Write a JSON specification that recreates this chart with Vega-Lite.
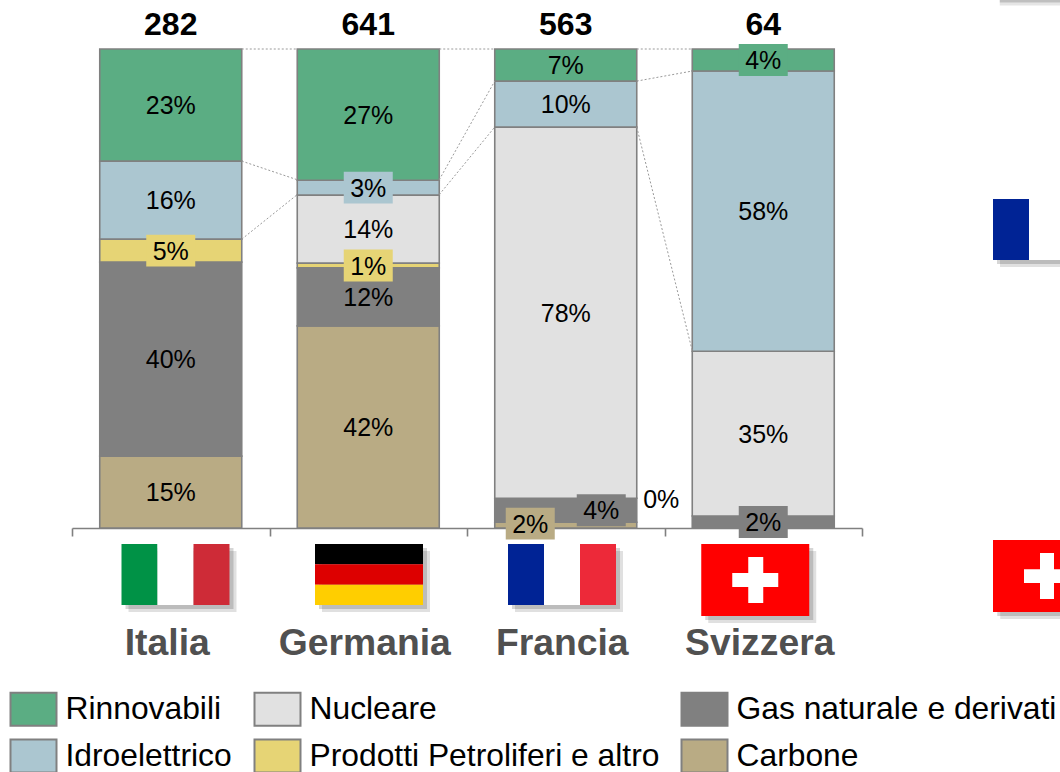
{"$schema":"https://vega.github.io/schema/vega-lite/v6.json","width":790,"height":479,"autosize":"none","padding":{"left":72,"top":49,"right":198,"bottom":244},"background":"white","config":{"view":{"stroke":null},"font":"Liberation Sans",
"axisX":{"title":null,"tickBand":"extent","domainColor":"#808080","domainWidth":1.6,"tickColor":"#808080","tickWidth":1.6,"tickSize":8,"labelAngle":0,"labelFont":"Liberation Sans","labelFontWeight":"bold","labelFontSize":37.3,"labelColor":"#505050","labelPadding":89,"labelBaseline":"top","labelOffset":-4},"axisY":{"disable":true}},
"datasets":{"quote":[
{"paese":"Italia","fonte":"Carbone","ordine":1,"valore":15.0,"etichetta":"15%","riquadro":false},
{"paese":"Italia","fonte":"Gas naturale e derivati","ordine":2,"valore":40.5,"etichetta":"40%","riquadro":false},
{"paese":"Italia","fonte":"Prodotti Petroliferi e altro","ordine":3,"valore":4.8,"etichetta":"5%","riquadro":true},
{"paese":"Italia","fonte":"Idroelettrico","ordine":5,"valore":16.3,"etichetta":"16%","riquadro":false},
{"paese":"Italia","fonte":"Rinnovabili","ordine":6,"valore":23.4,"etichetta":"23%","riquadro":false},
{"paese":"Germania","fonte":"Carbone","ordine":1,"valore":42.2,"etichetta":"42%","riquadro":false},
{"paese":"Germania","fonte":"Gas naturale e derivati","ordine":2,"valore":12.1,"etichetta":"12%","riquadro":false},
{"paese":"Germania","fonte":"Prodotti Petroliferi e altro","ordine":3,"valore":1.0,"etichetta":"1%","riquadro":true},
{"paese":"Germania","fonte":"Nucleare","ordine":4,"valore":14.2,"etichetta":"14%","riquadro":false},
{"paese":"Germania","fonte":"Idroelettrico","ordine":5,"valore":3.1,"etichetta":"3%","riquadro":true},
{"paese":"Germania","fonte":"Rinnovabili","ordine":6,"valore":27.4,"etichetta":"27%","riquadro":false},
{"paese":"Francia","fonte":"Carbone","ordine":1,"valore":1.2,"etichetta":"","riquadro":false},
{"paese":"Francia","fonte":"Gas naturale e derivati","ordine":2,"valore":5.0,"etichetta":"","riquadro":false},
{"paese":"Francia","fonte":"Nucleare","ordine":4,"valore":77.5,"etichetta":"78%","riquadro":false},
{"paese":"Francia","fonte":"Idroelettrico","ordine":5,"valore":9.6,"etichetta":"10%","riquadro":false},
{"paese":"Francia","fonte":"Rinnovabili","ordine":6,"valore":6.7,"etichetta":"7%","riquadro":false},
{"paese":"Svizzera","fonte":"Gas naturale e derivati","ordine":2,"valore":2.5,"etichetta":"2%","riquadro":true},
{"paese":"Svizzera","fonte":"Nucleare","ordine":4,"valore":34.4,"etichetta":"35%","riquadro":false},
{"paese":"Svizzera","fonte":"Idroelettrico","ordine":5,"valore":58.5,"etichetta":"58%","riquadro":false},
{"paese":"Svizzera","fonte":"Rinnovabili","ordine":6,"valore":4.6,"etichetta":"4%","riquadro":true}],
"sfalsate":[
{"paese":"Francia","fonte":"Carbone","valore":0.9,"etichetta":"2%","lato":"sinistra"},
{"paese":"Francia","fonte":"Gas naturale e derivati","valore":3.7,"etichetta":"4%","lato":"destra"}],
"collegamenti":[
{"id":"a","paese":"Italia","lato":"bordoDx","valore":100},{"id":"a","paese":"Germania","lato":"bordoSx","valore":100},
{"id":"b","paese":"Germania","lato":"bordoDx","valore":100},{"id":"b","paese":"Francia","lato":"bordoSx","valore":100},
{"id":"c","paese":"Francia","lato":"bordoDx","valore":100},{"id":"c","paese":"Svizzera","lato":"bordoSx","valore":100},
{"id":"d","paese":"Italia","lato":"bordoDx","valore":76.6},{"id":"d","paese":"Germania","lato":"bordoSx","valore":72.7},
{"id":"e","paese":"Italia","lato":"bordoDx","valore":60.3},{"id":"e","paese":"Germania","lato":"bordoSx","valore":69.6},
{"id":"f","paese":"Germania","lato":"bordoDx","valore":72.7},{"id":"f","paese":"Francia","lato":"bordoSx","valore":93.3},
{"id":"g","paese":"Germania","lato":"bordoDx","valore":69.6},{"id":"g","paese":"Francia","lato":"bordoSx","valore":83.7},
{"id":"h","paese":"Francia","lato":"bordoDx","valore":93.3},{"id":"h","paese":"Svizzera","lato":"bordoSx","valore":95.4},
{"id":"i","paese":"Francia","lato":"bordoDx","valore":83.7},{"id":"i","paese":"Svizzera","lato":"bordoSx","valore":37.0}],
"totali":[{"paese":"Italia","totale":282},{"paese":"Germania","totale":641},{"paese":"Francia","totale":563},{"paese":"Svizzera","totale":64}],
"it":[{"paese":"Italia"}],"de":[{"paese":"Germania"}],"fr":[{"paese":"Francia"}],"ch":[{"paese":"Svizzera"}]},
"layer":[
{"data":{"name":"quote"},"mark":{"type":"bar","stroke":"#808080","strokeWidth":1.6,"width":142},"encoding":{
"x":{"field":"paese","type":"nominal","title":null,"sort":null,"scale":{"type":"band","domain":["Italia","Germania","Francia","Svizzera"],"paddingInner":0,"paddingOuter":0}},
"y":{"field":"valore","type":"quantitative","stack":"zero","title":null,"scale":{"domain":[0,100],"nice":false}},
"order":{"field":"ordine"},
"color":{"field":"fonte","type":"nominal","scale":{"domain":["Rinnovabili","Idroelettrico","Nucleare","Prodotti Petroliferi e altro","Gas naturale e derivati","Carbone"],"range":["#5BAD83","#ABC6D0","#E1E1E1","#E6D475","#808080","#B9AB84"]},"legend":{"title":null,"orient":"none","legendX":-62.5,"legendY":636,"columns":3,"gridAlign":"each","columnPadding":18,"rowPadding":2,"padding":0,"symbolType":"M-1,-0.72H1V0.72H-1Z","symbolSize":2116,"symbolStrokeColor":"#808080","symbolStrokeWidth":2,"symbolOpacity":1,"labelFont":"Liberation Sans","labelFontSize":31.8,"labelColor":"#000000","labelOffset":8,"labelLimit":500}}}},
{"data":{"name":"collegamenti"},"mark":{"type":"line","stroke":"#9a9a9a","strokeWidth":1,"strokeDash":[2,2]},"encoding":{
"x":{"field":"paese","type":"nominal","title":null,"sort":null},
"xOffset":{"field":"lato","type":"nominal","scale":{"type":"point","domain":["bordoSx","sinistra","centro","destra","bordoDx"],"range":[27.75,169.75],"padding":0}},
"y":{"field":"valore","type":"quantitative","title":null,"stack":null},"detail":{"field":"id"}}},
{"data":{"name":"quote"},"mark":{"type":"point","filled":true,"shape":"M-1,-0.65H1V0.65H-1Z","size":2401,"strokeWidth":0,"opacity":1},"encoding":{
"x":{"field":"paese","type":"nominal","title":null,"sort":null},
"y":{"field":"valore","type":"quantitative","title":null,"stack":"zero","bandPosition":0.5},
"order":{"field":"ordine"},
"color":{"field":"fonte","type":"nominal"},
"opacity":{"condition":{"test":"datum.riquadro","value":1},"value":0}}},
{"data":{"name":"sfalsate"},"mark":{"type":"point","filled":true,"shape":"M-1,-0.65H1V0.65H-1Z","size":2401,"strokeWidth":0,"opacity":1},"encoding":{
"x":{"field":"paese","type":"nominal","title":null,"sort":null},
"xOffset":{"field":"lato","type":"nominal"},
"y":{"field":"valore","type":"quantitative","title":null,"stack":null},
"color":{"field":"fonte","type":"nominal"}}},
{"data":{"name":"quote"},"mark":{"type":"text","font":"Liberation Sans","fontSize":25,"color":"#000000","baseline":"middle","dy":1},"encoding":{
"x":{"field":"paese","type":"nominal","title":null,"sort":null},
"y":{"field":"valore","type":"quantitative","title":null,"stack":"zero","bandPosition":0.5},
"order":{"field":"ordine"},
"text":{"field":"etichetta"}}},
{"data":{"name":"sfalsate"},"mark":{"type":"text","font":"Liberation Sans","fontSize":25,"color":"#000000","baseline":"middle","dy":1},"encoding":{
"x":{"field":"paese","type":"nominal","title":null,"sort":null},
"xOffset":{"field":"lato","type":"nominal"},
"y":{"field":"valore","type":"quantitative","title":null,"stack":null},
"text":{"field":"etichetta"}}},
{"data":{"values":[{"paese":"Francia","valore":6.05,"etichetta":"0%"}]},"mark":{"type":"text","font":"Liberation Sans","fontSize":25,"color":"#000000","baseline":"middle","dy":1,"xOffset":95.5},"encoding":{
"x":{"field":"paese","type":"nominal","title":null,"sort":null},
"y":{"field":"valore","type":"quantitative","title":null,"stack":null},
"text":{"field":"etichetta"}}},
{"data":{"name":"totali"},"mark":{"type":"text","font":"Liberation Sans","fontWeight":"bold","fontSize":32,"color":"#000000","baseline":"middle","yOffset":-24},"encoding":{
"x":{"field":"paese","type":"nominal","title":null,"sort":null},
"y":{"datum":100,"title":null},
"text":{"field":"totale"}}},

{"data":{"name":"it"},"mark":{"type":"rect","color":"#000000","opacity":0.16,"width":108,"xOffset":8.75,"yOffset":4,"y2Offset":4},"encoding":{"x":{"field":"paese","type":"nominal","title":null,"sort":null},"y":{"datum":-3.34,"title":null},"y2":{"datum":-16.08}}},
{"data":{"name":"it"},"mark":{"type":"rect","color":"#000000","opacity":0.12,"width":108,"xOffset":11.75,"yOffset":7,"y2Offset":7},"encoding":{"x":{"field":"paese","type":"nominal","title":null,"sort":null},"y":{"datum":-3.34,"title":null},"y2":{"datum":-16.08}}},
{"data":{"name":"it"},"mark":{"type":"rect","color":"#009246","width":36,"xOffset":-31.25},"encoding":{"x":{"field":"paese","type":"nominal","title":null,"sort":null},"y":{"datum":-3.34,"title":null},"y2":{"datum":-16.08}}},
{"data":{"name":"it"},"mark":{"type":"rect","color":"#FFFFFF","width":36,"xOffset":4.75},"encoding":{"x":{"field":"paese","type":"nominal","title":null,"sort":null},"y":{"datum":-3.34,"title":null},"y2":{"datum":-16.08}}},
{"data":{"name":"it"},"mark":{"type":"rect","color":"#CE2B37","width":36,"xOffset":40.75},"encoding":{"x":{"field":"paese","type":"nominal","title":null,"sort":null},"y":{"datum":-3.34,"title":null},"y2":{"datum":-16.08}}},

{"data":{"name":"de"},"mark":{"type":"rect","color":"#000000","opacity":0.16,"width":108,"xOffset":4.75,"yOffset":4,"y2Offset":4},"encoding":{"x":{"field":"paese","type":"nominal","title":null,"sort":null},"y":{"datum":-3.34,"title":null},"y2":{"datum":-16.08}}},
{"data":{"name":"de"},"mark":{"type":"rect","color":"#000000","opacity":0.12,"width":108,"xOffset":7.75,"yOffset":7,"y2Offset":7},"encoding":{"x":{"field":"paese","type":"nominal","title":null,"sort":null},"y":{"datum":-3.34,"title":null},"y2":{"datum":-16.08}}},
{"data":{"name":"de"},"mark":{"type":"rect","color":"#000000","width":108,"xOffset":0.75},"encoding":{"x":{"field":"paese","type":"nominal","title":null,"sort":null},"y":{"datum":-3.34,"title":null},"y2":{"datum":-7.58}}},
{"data":{"name":"de"},"mark":{"type":"rect","color":"#DD0000","width":108,"xOffset":0.75},"encoding":{"x":{"field":"paese","type":"nominal","title":null,"sort":null},"y":{"datum":-7.58,"title":null},"y2":{"datum":-11.84}}},
{"data":{"name":"de"},"mark":{"type":"rect","color":"#FFCE00","width":108,"xOffset":0.75},"encoding":{"x":{"field":"paese","type":"nominal","title":null,"sort":null},"y":{"datum":-11.84,"title":null},"y2":{"datum":-16.08}}},

{"data":{"name":"fr"},"mark":{"type":"rect","color":"#000000","opacity":0.16,"width":108,"xOffset":0.25,"yOffset":4,"y2Offset":4},"encoding":{"x":{"field":"paese","type":"nominal","title":null,"sort":null},"y":{"datum":-3.34,"title":null},"y2":{"datum":-16.08}}},
{"data":{"name":"fr"},"mark":{"type":"rect","color":"#000000","opacity":0.12,"width":108,"xOffset":3.25,"yOffset":7,"y2Offset":7},"encoding":{"x":{"field":"paese","type":"nominal","title":null,"sort":null},"y":{"datum":-3.34,"title":null},"y2":{"datum":-16.08}}},
{"data":{"name":"fr"},"mark":{"type":"rect","color":"#002395","width":36,"xOffset":-39.75},"encoding":{"x":{"field":"paese","type":"nominal","title":null,"sort":null},"y":{"datum":-3.34,"title":null},"y2":{"datum":-16.08}}},
{"data":{"name":"fr"},"mark":{"type":"rect","color":"#FFFFFF","width":36,"xOffset":-3.75},"encoding":{"x":{"field":"paese","type":"nominal","title":null,"sort":null},"y":{"datum":-3.34,"title":null},"y2":{"datum":-16.08}}},
{"data":{"name":"fr"},"mark":{"type":"rect","color":"#ED2939","width":36,"xOffset":32.25},"encoding":{"x":{"field":"paese","type":"nominal","title":null,"sort":null},"y":{"datum":-3.34,"title":null},"y2":{"datum":-16.08}}},

{"data":{"name":"ch"},"mark":{"type":"rect","color":"#000000","opacity":0.16,"width":108,"xOffset":-4,"yOffset":4,"y2Offset":4},"encoding":{"x":{"field":"paese","type":"nominal","title":null,"sort":null},"y":{"datum":-3.34,"title":null},"y2":{"datum":-18.37}}},
{"data":{"name":"ch"},"mark":{"type":"rect","color":"#000000","opacity":0.12,"width":108,"xOffset":-1,"yOffset":7,"y2Offset":7},"encoding":{"x":{"field":"paese","type":"nominal","title":null,"sort":null},"y":{"datum":-3.34,"title":null},"y2":{"datum":-18.37}}},
{"data":{"name":"ch"},"mark":{"type":"rect","color":"#FF0000","width":108,"xOffset":-8},"encoding":{"x":{"field":"paese","type":"nominal","title":null,"sort":null},"y":{"datum":-3.34,"title":null},"y2":{"datum":-18.37}}},
{"data":{"name":"ch"},"mark":{"type":"rect","color":"#FFFFFF","width":15,"xOffset":-7.5},"encoding":{"x":{"field":"paese","type":"nominal","title":null,"sort":null},"y":{"datum":-6.05,"title":null},"y2":{"datum":-15.66}}},
{"data":{"name":"ch"},"mark":{"type":"rect","color":"#FFFFFF","width":46,"xOffset":-8},"encoding":{"x":{"field":"paese","type":"nominal","title":null,"sort":null},"y":{"datum":-9.39,"title":null},"y2":{"datum":-12.32}}},

{"data":{"name":"fr"},"mark":{"type":"rect","color":"#000000","opacity":0.16,"width":108,"xOffset":485.25,"yOffset":4,"y2Offset":4},"encoding":{"x":{"field":"paese","type":"nominal","title":null,"sort":null},"y":{"datum":68.68,"title":null},"y2":{"datum":55.95}}},
{"data":{"name":"fr"},"mark":{"type":"rect","color":"#000000","opacity":0.12,"width":108,"xOffset":488.25,"yOffset":7,"y2Offset":7},"encoding":{"x":{"field":"paese","type":"nominal","title":null,"sort":null},"y":{"datum":68.68,"title":null},"y2":{"datum":55.95}}},
{"data":{"name":"fr"},"mark":{"type":"rect","color":"#FFFFFF","width":36,"xOffset":481.25},"encoding":{"x":{"field":"paese","type":"nominal","title":null,"sort":null},"y":{"datum":68.68,"title":null},"y2":{"datum":55.95}}},
{"data":{"name":"fr"},"mark":{"type":"rect","color":"#002395","width":36,"xOffset":445.25},"encoding":{"x":{"field":"paese","type":"nominal","title":null,"sort":null},"y":{"datum":68.68,"title":null},"y2":{"datum":55.95}}},

{"data":{"name":"ch"},"mark":{"type":"rect","color":"#000000","opacity":0.16,"width":108,"xOffset":288,"yOffset":4,"y2Offset":4},"encoding":{"x":{"field":"paese","type":"nominal","title":null,"sort":null},"y":{"datum":-2.5,"title":null},"y2":{"datum":-17.54}}},
{"data":{"name":"ch"},"mark":{"type":"rect","color":"#000000","opacity":0.12,"width":108,"xOffset":291,"yOffset":7,"y2Offset":7},"encoding":{"x":{"field":"paese","type":"nominal","title":null,"sort":null},"y":{"datum":-2.5,"title":null},"y2":{"datum":-17.54}}},
{"data":{"name":"ch"},"mark":{"type":"rect","color":"#FF0000","width":108,"xOffset":283.75},"encoding":{"x":{"field":"paese","type":"nominal","title":null,"sort":null},"y":{"datum":-2.5,"title":null},"y2":{"datum":-17.54}}},
{"data":{"name":"ch"},"mark":{"type":"rect","color":"#FFFFFF","width":14,"xOffset":283.75},"encoding":{"x":{"field":"paese","type":"nominal","title":null,"sort":null},"y":{"datum":-5.22,"title":null},"y2":{"datum":-14.82}}},
{"data":{"name":"ch"},"mark":{"type":"rect","color":"#FFFFFF","width":46,"xOffset":283.75},"encoding":{"x":{"field":"paese","type":"nominal","title":null,"sort":null},"y":{"datum":-8.62,"title":null},"y2":{"datum":-11.48}}},

{"data":{"name":"fr"},"mark":{"type":"rect","color":"#000000","opacity":0.25,"width":108,"xOffset":488},"encoding":{"x":{"field":"paese","type":"nominal","title":null,"sort":null},"y":{"datum":110.3,"title":null},"y2":{"datum":109.7}}},
{"data":{"name":"fr"},"mark":{"type":"rect","color":"#000000","opacity":0.1,"width":108,"xOffset":488},"encoding":{"x":{"field":"paese","type":"nominal","title":null,"sort":null},"y":{"datum":109.7,"title":null},"y2":{"datum":109.1}}}
]}
